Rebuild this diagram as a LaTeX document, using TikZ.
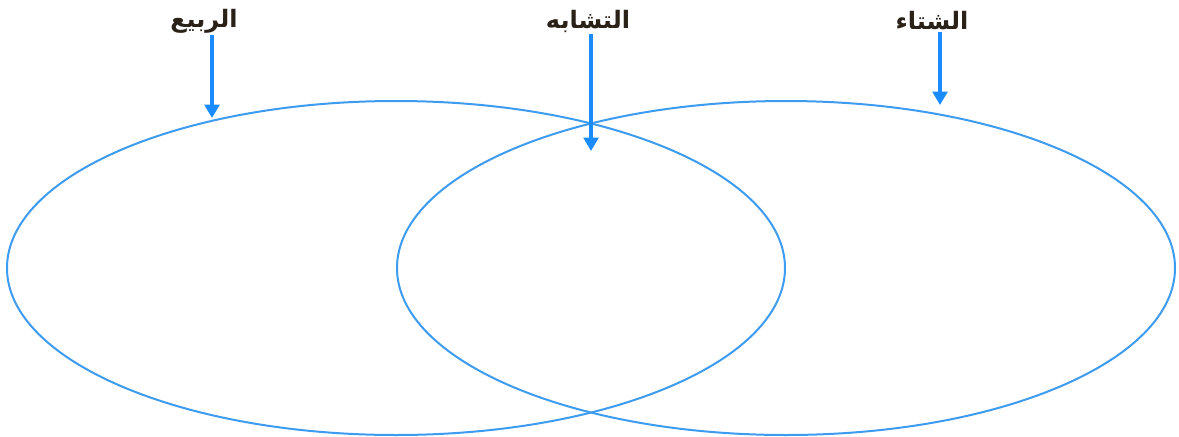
\documentclass[tikz,border=0pt]{standalone}
\usepackage{fontspec}
\TeXXeTstate=1
\newfontfamily\arabicfont[Script=Arabic]{DejaVu Sans}
\definecolor{vennblue}{HTML}{3D9BF0}
\definecolor{arrowblue}{HTML}{1A8CFF}
\definecolor{labelink}{HTML}{2A2118}
\usetikzlibrary{arrows.meta}
\tikzset{
  circulo/.style={draw=vennblue, line width=1.5pt},
  etiqueta/.style={font=\arabicfont\bfseries\fontsize{18}{21}\selectfont, text=labelink, inner sep=1pt},
  freccia/.style={draw=arrowblue, line width=2.6pt, -{Triangle[length=10pt,width=11pt]}}
}
\begin{document}
\begin{tikzpicture}[x=0.75pt,y=-0.75pt]
        \useasboundingbox (0,0) rectangle (1179,436);
        %insiemi
        \draw[circulo] (396,268) ellipse [x radius=389, y radius=167];
        \draw[circulo] (786,268) ellipse [x radius=389, y radius=167];
        %etichette
        \node[etiqueta] (primavera) at (204,21) {\beginR الربيع\endR};
        \node[etiqueta] (somiglianza) at (588,21) {\beginR التشابه\endR};
        \node[etiqueta] (inverno) at (932,21) {\beginR الشتاء\endR};
        %punte
        \coordinate (pp) at (212,118);
        \coordinate (ps) at (591,151);
        \coordinate (pi) at (940,105);
        \draw[freccia] (primavera.south -| pp) -- (pp);
        \draw[freccia] (somiglianza.south -| ps) -- (ps);
        \draw[freccia] (inverno.south -| pi) -- (pi);
\end{tikzpicture}
\end{document}
